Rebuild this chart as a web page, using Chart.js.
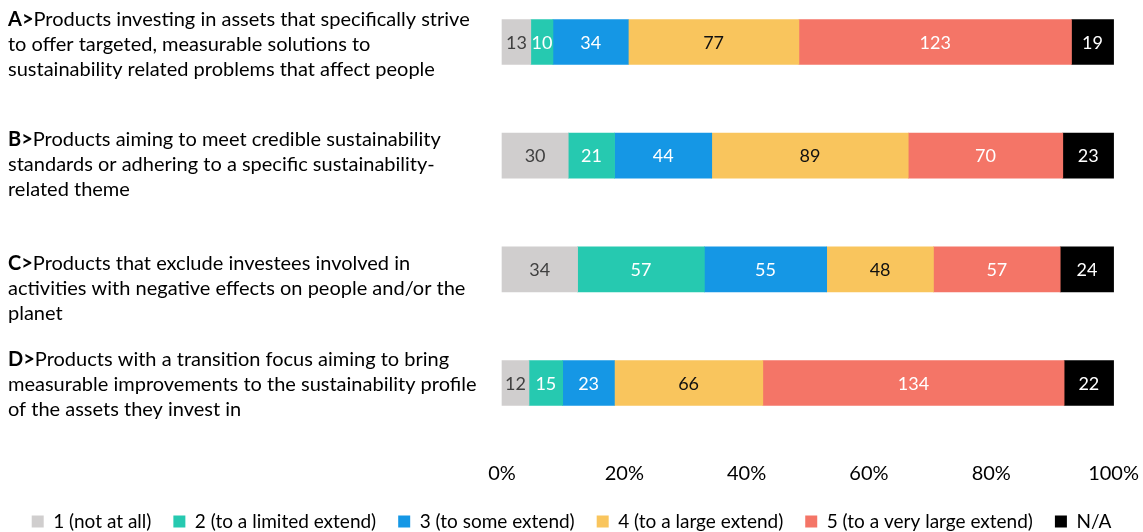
<!DOCTYPE html>
<html>
<head>
<meta charset="utf-8">
<script src="https://cdn.jsdelivr.net/npm/chart.js@4"></script>
<style>
  html, body { margin: 0; padding: 0; background: #fff; }
  #wrap { width: 1143px; height: 532px; position: relative; }
</style>
</head>
<body>
<div id="wrap"><canvas id="chart"></canvas></div>
<script>
/* ---------- data ---------- */
const categories = ["A>", "B>", "C>", "D>"];
const categoryLines = [
    ["Products investing in assets that specifically strive", "to offer targeted, measurable solutions to", "sustainability related problems that affect people"],
    ["Products aiming to meet credible sustainability", "standards or adhering to a specific sustainability-", "related theme"],
    ["Products that exclude investees involved in", "activities with negative effects on people and/or the", "planet"],
    ["Products with a transition focus aiming to bring", "measurable improvements to the sustainability profile", "of the assets they invest in"]
];
const seriesNames = ["1 (not at all)", "2 (to a limited extend)", "3 (to some extend)", "4 (to a large extend)", "5 (to a very large extend)", "N/A"];
const notAtAll = [13, 30, 34, 12];
const limitedExtend = [10, 21, 57, 15];
const someExtend = [34, 44, 55, 23];
const largeExtend = [77, 89, 48, 66];
const veryLargeExtend = [123, 70, 57, 134];
const notApplicable = [19, 23, 24, 22];
const xTicks = [0, 20, 40, 60, 80, 100];

/* ---------- styles ---------- */
const FONT = "Lato, 'Open Sans', sans-serif";
const colors = ["#d0cece", "#26c9b0", "#1597e5", "#f9c55d", "#f47567", "#000000"];
const valueColors = ["#404040", "#ffffff", "#ffffff", "#111111", "#ffffff", "#ffffff"];
const lineOffsets = [3, 9, 19, 2];   // middle text line vs bar centre

const series = [notAtAll, limitedExtend, someExtend, largeExtend, veryLargeExtend, notApplicable];
const totals = categories.map((c, i) => series.reduce((s, arr) => s + arr[i], 0));

const datasets = series.map((arr, k) => ({
    label: seriesNames[k],
    data: arr.map((v, i) => v / totals[i] * 100),
    raw: arr,
    backgroundColor: colors[k],
    borderWidth: 0,
    barThickness: 45,
    clip: false
}));

/* ---------- value labels in the bars ---------- */
const valueLabels = {
    id: "valueLabels",
    afterDatasetsDraw(chart) {
        const ctx = chart.ctx;
        ctx.save();
        ctx.font = "18px " + FONT;
        ctx.textAlign = "center";
        ctx.textBaseline = "middle";
        chart.data.datasets.forEach((ds, k) => {
            chart.getDatasetMeta(k).data.forEach((bar, i) => {
                const p = bar.getCenterPoint();
                ctx.fillStyle = valueColors[k];
                ctx.fillText(ds.raw[i], p.x, p.y + 1);
            });
        });
        ctx.restore();
    }
};

/* ---------- category text on the left (bold prefix) ---------- */
const categoryText = {
    id: "categoryText",
    afterDraw(chart) {
        const ctx = chart.ctx;
        const y = chart.scales.y;
        ctx.save();
        ctx.textBaseline = "middle";
        ctx.fillStyle = "#000";
        categories.forEach((c, i) => {
            const mid = y.getPixelForValue(i) + lineOffsets[i];
            categoryLines[i].forEach((line, j) => {
                const ly = mid + (j - 1) * 25;
                let x = 8;
                if (j === 0) {
                    ctx.font = "bold 20px " + FONT;
                    ctx.fillText(c, x, ly);
                    x += ctx.measureText(c).width;
                }
                ctx.font = "20px " + FONT;
                ctx.fillText(line, x, ly);
            });
        });
        ctx.restore();
    }
};

new Chart(document.getElementById("chart"), {
    type: "bar",
    data: { labels: categories, datasets },
    plugins: [valueLabels, categoryText],
    options: {
        indexAxis: "y",
        responsive: true,
        maintainAspectRatio: false,
        animation: false,
        layout: { padding: { top: 42, left: 0, right: 0, bottom: -9 } },
        scales: {
            x: {
                stacked: true,
                min: 0,
                max: 100,
                weight: 1,
                grid: { display: false, drawTicks: false },
                border: { display: false },
                afterBuildTicks: axis => { axis.ticks = xTicks.map(v => ({ value: v })); },
                ticks: {
                    padding: 4,
                    color: "#000",
                    font: { family: FONT, size: 20 },
                    callback: v => v + "%"
                }
            },
            xSpacer: {
                type: "linear",
                position: "bottom",
                weight: 0,
                grid: { display: false, drawTicks: false },
                border: { display: false },
                ticks: { display: false },
                afterFit: axis => { axis.height = 75; }
            },
            y: {
                stacked: true,
                offset: false,
                grid: { display: false, drawTicks: false },
                border: { display: false },
                ticks: { display: false },
                afterFit: axis => { axis.width = 502; }
            },
            yRight: {
                type: "category",
                position: "right",
                offset: false,
                grid: { display: false, drawTicks: false },
                border: { display: false },
                ticks: { display: false },
                afterFit: axis => { axis.width = 29; }
            }
        },
        plugins: {
            legend: {
                position: "bottom",
                labels: {
                    boxWidth: 12,
                    boxHeight: 12,
                    padding: 22,
                    color: "#000",
                    font: { family: FONT, size: 19 }
                }
            },
            tooltip: { enabled: false }
        }
    }
});
</script>
</body>
</html>
